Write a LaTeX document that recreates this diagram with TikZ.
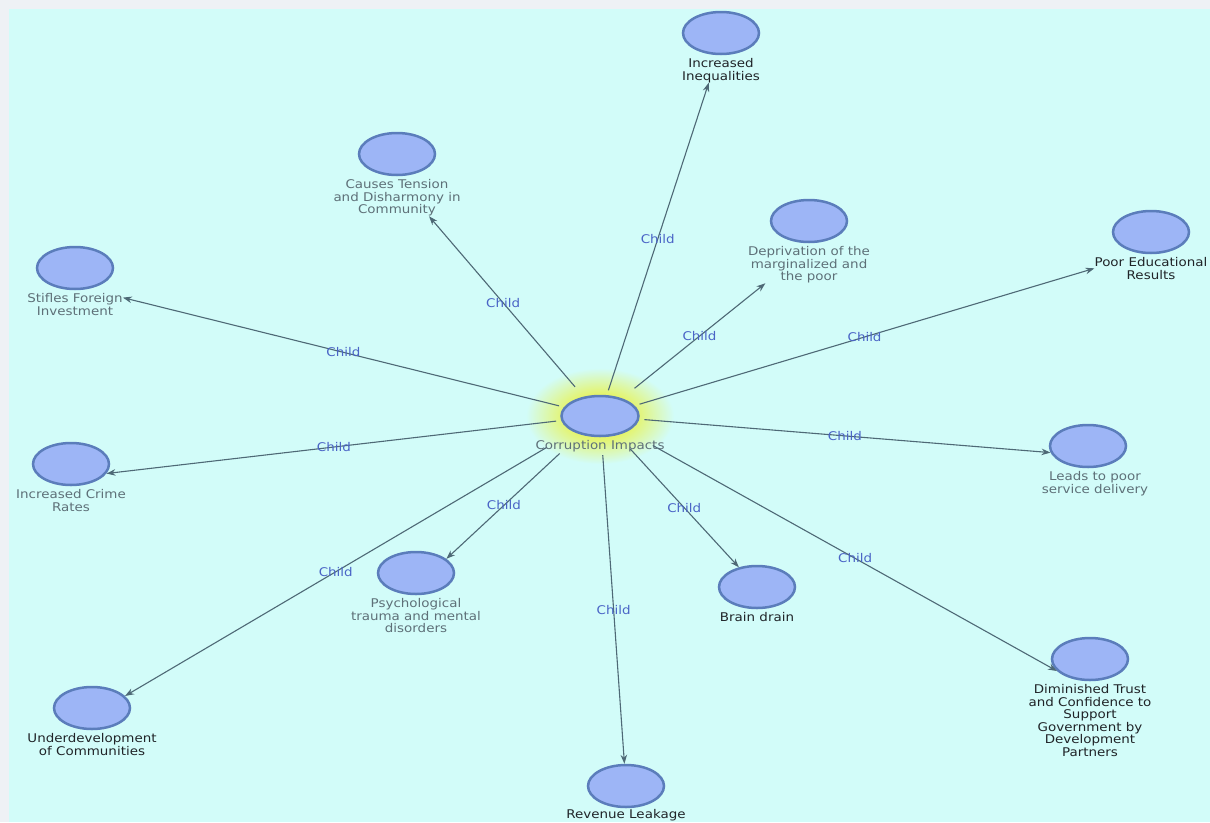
\documentclass[tikz,border=0pt]{standalone}
\usepackage{fontspec}
\usepackage{xcolor}
\usepackage{tikz}
\usetikzlibrary{shapes,arrows,positioning,calc,arrows.meta}
\newfontfamily\mapfont{DejaVu Sans}[FakeStretch=1.12]

\definecolor{outerbg}{HTML}{EEF1F5}
\definecolor{panelc}{HTML}{D2FCF9}
\definecolor{bubfill}{HTML}{9DB5F6}
\definecolor{bubdraw}{HTML}{5B7DBB}
\definecolor{linkc}{HTML}{4E6976}
\definecolor{txtgray}{HTML}{5E7078}
\definecolor{txtdark}{HTML}{202428}
\definecolor{childc}{HTML}{4A64C6}
\definecolor{glowc}{HTML}{E4F46E}

\pgfdeclareradialshading{hubglow}{\pgfpoint{0bp}{0bp}}{color(0bp)=(glowc); color(12bp)=(glowc); color(25bp)=(panelc); color(50bp)=(panelc)}

\begin{document}
\begin{tikzpicture}[x=1pt,y=-1pt,
    bubble/.style={ellipse, draw=bubdraw, fill=bubfill, line width=2.5pt, minimum width=76pt, minimum height=42pt, inner sep=0pt},
    lbl/.style={align=center, inner sep=0pt, text=txtgray, font=\mapfont\fontsize{12}{12.5}\selectfont},
    lbldark/.style={lbl, text=txtdark},
    link/.style={draw=linkc, line width=1.1pt, -{Stealth[length=9pt,width=6.5pt]}, shorten <=5pt},
    childlbl/.style={inner sep=1pt, text=childc, font=\mapfont\fontsize{12}{12.5}\selectfont}]
    \clip (0,0) rectangle (1210,822);
    % Background
    \fill[outerbg] (0,0) rectangle (1210,822);
    \fill[panelc] (9,9) rectangle (1210,822);
    % Hub
    \shade[shading=hubglow] (600,416) ellipse (74 and 48);
    \node[bubble, minimum width=77pt, minimum height=40pt] (hub) at (600,416) {};
    \node[lbl, below=3pt of hub] (hubtxt) {Corruption Impacts};
    % Upper children
    \node[bubble] (ineq) at (721,33) {};
    \node[lbldark, below=3pt of ineq] (ineqtxt) {Increased\\Inequalities};
    \node[bubble] (tension) at (397,154) {};
    \node[lbl, below=3pt of tension] (tensiontxt) {Causes Tension\\and Disharmony in\\Community};
    \node[bubble] (depriv) at (809,221) {};
    \node[lbl, below=3pt of depriv] (deprivtxt) {Deprivation of the\\marginalized and\\the poor};
    \node[bubble] (poor) at (1151,232) {};
    \node[lbldark, below=3pt of poor] (poortxt) {Poor Educational\\Results};
    \node[bubble] (stifles) at (75,268) {};
    \node[lbl, below=3pt of stifles] (stiflestxt) {Stifles Foreign\\Investment};
    % Side children
    \node[bubble] (crime) at (71,464) {};
    \node[lbl, below=3pt of crime] (crimetxt) {Increased Crime\\Rates};
    \node[bubble] (leads) at (1088,446) {};
    \node[lbl, below=3pt of leads, xshift=7pt] (leadstxt) {Leads to poor\\service delivery};
    % Lower children
    \node[bubble] (psych) at (416,573) {};
    \node[lbl, below=3pt of psych] (psychtxt) {Psychological\\trauma and mental\\disorders};
    \node[bubble] (brain) at (757,587) {};
    \node[lbldark, below=3pt of brain] (braintxt) {Brain drain};
    \node[bubble] (dimin) at (1090,659) {};
    \node[lbldark, below=3pt of dimin] (dimintxt) {Diminished Trust\\and Confidence to\\Support\\Government by\\Development\\Partners};
    \node[bubble] (underdev) at (92,708) {};
    \node[lbldark, below=3pt of underdev] (underdevtxt) {Underdevelopment\\of Communities};
    \node[bubble] (revenue) at (626,786) {};
    \node[lbldark, below=1pt of revenue] (revenuetxt) {Revenue Leakage};
    % Links
    \draw[link] (hub) -- (ineqtxt.-135) node[childlbl, midway] {Child};
    \draw[link, shorten <=13pt] (hub) -- (tensiontxt.-30) node[childlbl, pos=0.52] {Child};
    \draw[link, shorten <=16pt] (hub) -- (deprivtxt.-157) node[childlbl, pos=0.54] {Child};
    \draw[link] (hub) -- (poortxt.west) node[childlbl, midway] {Child};
    \draw[link] (hub) -- (stiflestxt.8) node[childlbl, midway] {Child};
    \draw[link] (hub) -- (crime.-15) node[childlbl, midway] {Child};
    \draw[link] (hub) -- (leads.190) node[childlbl, midway] {Child};
    \draw[link, shorten <=28pt] (hub) -- (psych.25) node[childlbl, pos=0.57] {Child};
    \draw[link, shorten <=19pt] (hub) -- (brain) node[childlbl, pos=0.55] {Child};
    \draw[link, shorten <=29pt] (hub) -- (dimin.200) node[childlbl, pos=0.53] {Child};
    \draw[link, shorten <=31pt] (hub) -- (underdev.20) node[childlbl, pos=0.53] {Child};
    \draw[link, shorten <=18pt] (hub) -- (revenue) node[childlbl, pos=0.53] {Child};
\end{tikzpicture}
\end{document}
